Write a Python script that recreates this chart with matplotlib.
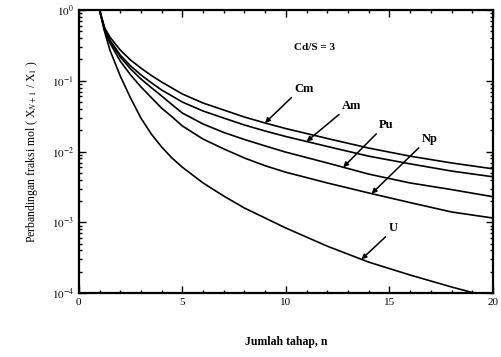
import numpy as np
import matplotlib
matplotlib.use("Agg")
import matplotlib.pyplot as plt
from matplotlib.ticker import FixedLocator, LogLocator, NullFormatter

plt.rcParams["font.family"] = ["Liberation Serif", "DejaVu Serif"]
plt.rcParams["mathtext.fontset"] = "stix"

# number of stages
n = [1, 1.25, 1.5, 2, 2.5, 3, 3.5, 4, 4.5, 5, 6, 7, 8, 9, 10, 12, 14, 16, 18, 20]

# mole fraction ratio X(N+1)/X1
cm = [1.0, 0.557, 0.415, 0.272, 0.196, 0.151, 0.119, 0.096, 0.079, 0.065,
      0.0485, 0.0386, 0.0307, 0.0253, 0.0211, 0.0153, 0.0112, 0.0086, 0.0069, 0.0057]
am = [1.0, 0.539, 0.377, 0.231, 0.162, 0.121, 0.094, 0.074, 0.061, 0.050,
      0.0374, 0.0297, 0.0237, 0.0195, 0.0163, 0.0118, 0.0086, 0.0067, 0.0053, 0.0044]
pu = [1.0, 0.522, 0.365, 0.217, 0.147, 0.106, 0.080, 0.061, 0.046, 0.035,
      0.0245, 0.0186, 0.0148, 0.0120, 0.0098, 0.0069, 0.0048, 0.0036, 0.0029, 0.0023]
np_ = [1.0, 0.505, 0.342, 0.190, 0.121, 0.082, 0.058, 0.041, 0.031, 0.023,
       0.0150, 0.0109, 0.0081, 0.0063, 0.0051, 0.0036, 0.0026, 0.0019, 0.0014, 0.00115]
u = [1.0, 0.489, 0.272, 0.117, 0.057, 0.0297, 0.0177, 0.0116, 0.0081, 0.0060,
     0.0036, 0.00235, 0.00159, 0.00115, 0.00083, 0.00046, 0.000274, 0.00018,
     0.000122, 0.000085]

series = [("Cm", cm), ("Am", am), ("Pu", pu), ("Np", np_), ("U", u)]

# label text anchor (n, y) and stage where the arrow meets the curve
label_pos = {
    "Cm": ((10.4, 0.063), 8.99),
    "Am": ((12.7, 0.036), 11.0),
    "Pu": ((14.5, 0.0195), 12.77),
    "Np": ((16.55, 0.0123), 14.14),
    "U": ((14.95, 0.00068), 13.65),
}

fig = plt.figure(figsize=(5.02, 3.57), dpi=100)
ax = fig.add_axes([0.157, 0.179, 0.825, 0.793])

for name, vals in series:
    ax.plot(n, vals, color="black", lw=1.2)

ax.set_yscale("log")
ax.set_xlim(0, 20)
ax.set_ylim(1e-4, 1)

# arrows + labels
for name, vals in series:
    (tx, ty), tip_n = label_pos[name]
    tip_y = 10 ** np.interp(tip_n, n, np.log10(vals))
    ax.annotate(name, xy=(tip_n, tip_y), xytext=(tx, ty),
                ha="left", va="bottom", fontsize=9, fontweight="bold",
                arrowprops=dict(arrowstyle="-|>", color="black", lw=1.1,
                                mutation_scale=7, relpos=(0, 0),
                                shrinkA=0, shrinkB=0))

ax.text(10.4, 0.30, "Cd/S = 3", fontsize=8, fontweight="bold", va="center")

# ticks
ax.xaxis.set_major_locator(FixedLocator([0, 5, 10, 15, 20]))
ax.xaxis.set_minor_locator(FixedLocator(np.arange(0, 21, 1)))
ax.yaxis.set_major_locator(FixedLocator([1e-4, 1e-3, 1e-2, 1e-1, 1]))
ax.yaxis.set_minor_locator(LogLocator(base=10, subs=np.arange(2, 10)))
ax.yaxis.set_minor_formatter(NullFormatter())
ax.set_yticklabels(["$10^{-4}$", "$10^{-3}$", "$10^{-2}$", "$10^{-1}$", "$10^{0}$"])
ax.tick_params(which="both", direction="in", top=True, right=True,
               labelsize=8, width=1.0)
ax.tick_params(which="major", length=5)
ax.tick_params(which="minor", length=2.5)
for sp in ax.spines.values():
    sp.set_linewidth(1.6)

ax.set_ylabel("Perbandingan fraksi mol ( X$_{N+1}$ / X$_{1}$ )", fontsize=8.5,
              labelpad=8)
ax.set_xlabel("Jumlah tahap, n", fontsize=8.5, fontweight="bold", labelpad=21)

fig.savefig("out.png", dpi=100)
